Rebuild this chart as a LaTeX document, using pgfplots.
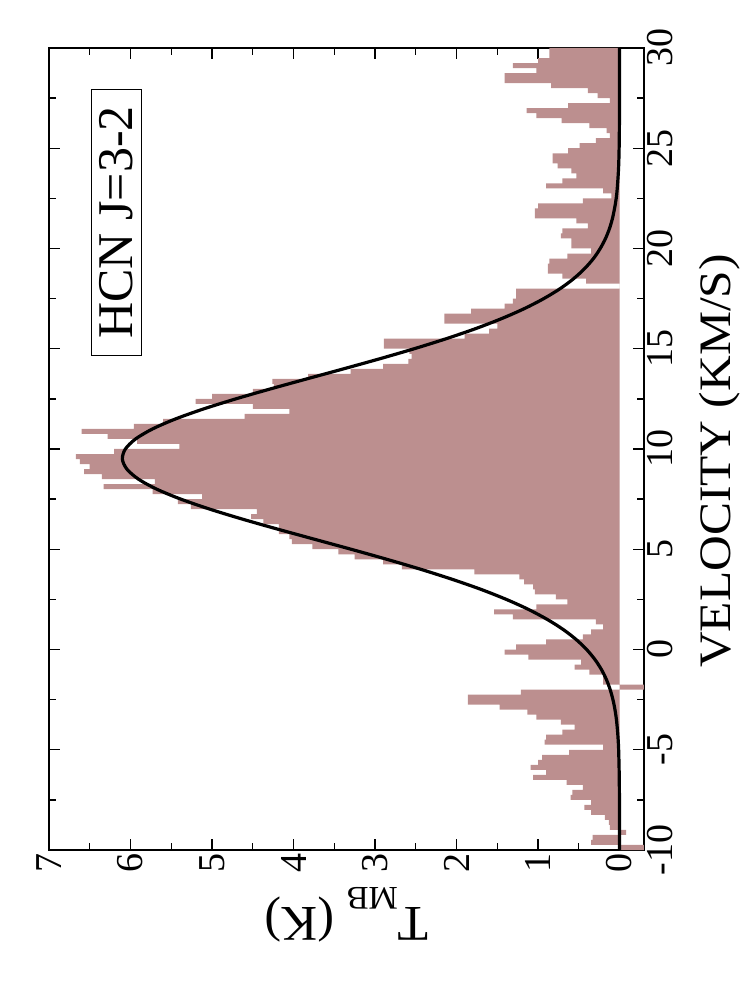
\documentclass[border=0pt]{standalone}
\usepackage{fontspec}
\setmainfont{Liberation Serif}
\usepackage{pgfplots}
\pgfplotsset{compat=1.18}
\usepackage{pgfplotstable}
\definecolor{rosy}{RGB}{188,143,143}

% spectrum: channel lower edge (km/s), T_MB (K); first/last rows close the fill on T=0
\pgfplotstableread{
v T
-10.00 0.00
-10.00 -0.40
-9.75 0.35
-9.50 0.33
-9.25 -0.08
-9.00 0.12
-8.75 0.13
-8.50 0.18
-8.25 0.35
-8.00 0.43
-7.75 0.35
-7.50 0.60
-7.25 0.58
-7.00 0.45
-6.75 0.65
-6.50 1.06
-6.25 0.90
-6.00 1.09
-5.75 1.00
-5.50 0.95
-5.25 0.62
-5.00 0.20
-4.75 0.92
-4.50 0.90
-4.25 0.70
-4.00 0.55
-3.75 0.72
-3.50 1.02
-3.25 1.13
-3.00 1.47
-2.75 1.86
-2.50 1.86
-2.25 1.21
-2.00 -0.40
-1.75 0.20
-1.50 0.20
-1.25 0.37
-1.00 0.55
-0.75 0.47
-0.50 1.12
-0.25 1.41
0.00 1.27
0.25 0.90
0.50 0.45
0.75 0.35
1.00 0.20
1.25 0.29
1.50 1.31
1.75 1.54
2.00 1.02
2.25 0.64
2.50 0.78
2.75 1.04
3.00 1.06
3.25 1.17
3.50 1.23
3.75 1.78
4.00 2.67
4.25 2.90
4.50 3.25
4.75 3.45
5.00 3.77
5.25 4.02
5.50 4.05
5.75 4.18
6.00 4.18
6.25 4.37
6.50 4.52
6.75 4.45
7.00 5.26
7.25 5.42
7.50 5.12
7.75 5.73
8.00 6.33
8.25 5.70
8.50 6.35
8.75 6.57
9.00 6.50
9.25 6.62
9.50 6.67
9.75 6.20
10.00 5.40
10.25 5.92
10.50 6.28
10.75 6.60
11.00 5.96
11.25 5.60
11.50 4.60
11.75 4.05
12.00 4.50
12.25 5.20
12.50 5.00
12.75 4.50
13.00 4.24
13.25 4.26
13.50 3.82
13.75 3.30
14.00 2.90
14.25 2.59
14.50 2.55
14.75 2.58
15.00 2.89
15.25 2.89
15.50 1.90
15.75 1.60
16.00 1.50
16.25 2.15
16.50 2.15
16.75 1.82
17.00 1.41
17.25 1.31
17.50 1.27
17.75 1.27
18.00 0.00
18.25 0.41
18.50 0.70
18.75 0.88
19.00 0.88
19.25 0.86
19.50 0.64
19.75 0.35
20.00 0.59
20.25 0.59
20.50 0.72
20.75 0.70
21.00 0.39
21.25 0.53
21.50 1.04
21.75 1.04
22.00 1.00
22.25 0.45
22.50 0.10
22.75 0.20
23.00 0.90
23.25 0.70
23.50 0.53
23.75 0.59
24.00 0.76
24.25 0.82
24.50 0.82
24.75 0.63
25.00 0.49
25.25 0.29
25.50 0.12
25.75 0.16
26.00 0.37
26.25 0.71
26.50 1.02
26.75 1.14
27.00 0.63
27.25 0.12
27.50 0.27
27.75 0.39
28.00 0.84
28.25 1.41
28.50 1.41
28.75 1.02
29.00 1.31
29.25 1.00
29.50 0.86
29.75 0.86
30.00 0.00
}\spectrum

% gaussian fit
\pgfplotstableread{
v T
-10 0.000
-9 0.000
-8 0.001
-7 0.002
-6 0.005
-5 0.011
-4.5 0.017
-4 0.026
-3.5 0.038
-3 0.056
-2.5 0.081
-2 0.115
-1.5 0.161
-1 0.222
-0.5 0.302
0 0.404
0.5 0.533
1 0.692
1.5 0.887
2 1.118
2.5 1.390
3 1.701
3.5 2.053
4 2.439
4.5 2.856
5 3.294
5.5 3.744
6 4.192
6.5 4.625
7 5.027
7.5 5.383
8 5.680
8.5 5.904
9 6.045
9.5 6.100
10 6.063
10.5 5.938
11 5.730
11.5 5.447
12 5.102
12.5 4.708
13 4.280
13.5 3.834
14 3.384
14.5 2.942
15 2.520
15.5 2.127
16 1.768
16.5 1.449
17 1.169
17.5 0.930
18 0.728
18.5 0.562
19 0.428
19.5 0.320
20 0.237
20.5 0.172
21 0.123
21.5 0.087
22 0.061
22.5 0.041
23 0.028
24 0.012
25 0.005
26 0.002
27 0.001
28 0.000
30 0.000
}\fit

\begin{document}
\begin{tikzpicture}
\useasboundingbox (-49pt,-151pt) rectangle (697pt,850pt);
\begin{axis}[
    at={(0,0)}, anchor=south west,
    scale only axis,
    width=595pt, height=802pt,
    x dir=reverse,
    xmin=-0.3, xmax=7,
    ymin=-10, ymax=30,
    xtick={0,1,2,3,4,5,6,7},
    xticklabels={0,1,2,3,4,5,6,7},
    minor xtick={0.5,1.5,2.5,3.5,4.5,5.5,6.5},
    ytick={-10,-5,0,5,10,15,20,25,30},
    yticklabels={-10,-5,0,5,10,15,20,25,30},
    minor ytick={-7.5,-2.5,2.5,7.5,12.5,17.5,22.5,27.5},
    tick align=inside,
    xtick pos=both, ytick pos=both,
    xticklabel pos=left, yticklabel pos=right,
    major tick length=11pt, minor tick length=7pt,
    every tick/.append style={black, line width=1.4pt},
    axis line style={line width=1.6pt},
    ticklabel style={font=\fontsize{38}{40}\selectfont},
    xticklabel style={rotate=90, anchor=east},
    yticklabel style={rotate=90, anchor=north},
    xlabel={T\raisebox{-20pt}{\fontsize{33}{35}\selectfont MB} (K)},
    xlabel style={rotate=180, anchor=south, inner sep=0pt,
        at={(axis description cs:0.5,-0.046)}, font=\fontsize{50}{55}\selectfont},
    ylabel={\scalebox{1.1}[1]{VELOCITY (KM/S)}},
    ylabel style={anchor=north, inner sep=0pt,
        at={(axis description cs:1.093,0.485)}, font=\fontsize{45}{50}\selectfont},
]
\addplot[draw=none, fill=rosy, const plot mark right] table[x=T, y=v] {\spectrum};
\addplot[black, line width=3.2pt, smooth] table[x=T, y=v] {\fit};
\node[draw, line width=1.2pt, rotate=90, inner xsep=17pt, inner ysep=8pt,
      font=\fontsize{50}{55}\selectfont] at (axis cs:6.17,21.3) {HCN J=3-2};
\end{axis}
\end{tikzpicture}
\end{document}
